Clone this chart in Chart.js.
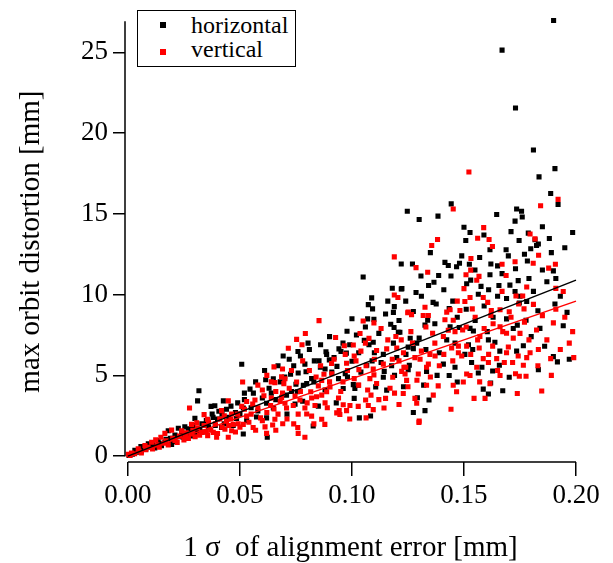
<!DOCTYPE html>
<html>
<head>
<meta charset="utf-8">
<script src="https://cdn.jsdelivr.net/npm/chart.js@4.4.1/dist/chart.umd.min.js"></script>
<style>
  html, body { margin: 0; padding: 0; background: #fff; }
  #wrap { position: relative; width: 613px; height: 563px; }
  #legend { position: absolute; left: 137px; top: 10px; width: 157px; height: 55px;
    border: 1.5px solid #000; background: #fff; font-family: "Liberation Serif", "DejaVu Serif", serif;
    font-size: 24px; line-height: 24px; color: #000; }
  .mk { position: absolute; left: 21.5px; width: 6px; height: 6px; }
  .tx { position: absolute; left: 53px; white-space: nowrap; }
</style>
</head>
<body>
<div id="wrap">
  <canvas id="c" width="613" height="563"></canvas>
  <div id="legend">
    <span class="mk" style="top:10.5px;background:#000"></span><span class="tx" style="top:1.5px">horizontal</span>
    <span class="mk" style="top:37.5px;background:#f00"></span><span class="tx" style="top:25.5px">vertical</span>
  </div>
</div>
<script>
const seriesNames = ["horizontal", "vertical"];
const xTicks = [0.00, 0.05, 0.10, 0.15, 0.20];
const yTicks = [0, 5, 10, 15, 20, 25];

const horizontalPoints = [
[0.190,26.97],[0.167,25.14],[0.173,21.56],[0.181,18.96],[0.1906,17.8],[0.1835,17.29],[0.1887,16.26],[0.192,15.58],[0.1443,15.62],
[0.1247,15.16],[0.130,14.65],[0.1384,14.86],[0.1646,14.96],[0.1735,15.3],[0.1757,15.16],[0.176,14.81],[0.1728,14.55],[0.150,14.17],
[0.1527,13.85],[0.1589,13.69],[0.1508,13.35],[0.1787,13.81],[0.1817,13.4],[0.1824,13.04],[0.1832,13.14],[0.1798,12.84],[0.1746,13.35],
[0.1881,13.48],[0.1985,13.85],[0.1616,12.78],[0.1688,12.78],[0.1698,12.4],[0.1415,12.0],[0.1467,11.73],[0.148,11.94],[0.1524,11.88],
[0.1549,11.53],[0.162,11.9],[0.165,11.78],[0.1783,12.08],[0.185,11.53],[0.1899,11.47],[0.1308,11.15],[0.1387,11.19],[0.1442,11.15],
[0.1616,11.23],[0.1366,10.77],[0.1342,10.57],[0.1512,10.67],[0.1576,10.51],[0.1656,10.57],[0.1705,10.59],[0.1742,10.87],[0.1728,10.19],
[0.1223,10.37],[0.1286,10.13],[0.1564,10.02],[0.169,9.76],[0.178,9.58],[0.1747,9.48],[0.1362,9.52],[0.1376,9.42],[0.1434,9.14],
[0.1906,9.42],[0.1274,8.96],[0.1338,8.41],[0.1326,8.11],[0.1438,8.01],[0.1527,7.91],[0.1542,7.75],[0.1479,7.97],[0.1604,7.71],
[0.1777,8.41],[0.1738,8.11],[0.1839,7.91],[0.1943,8.07],[0.130,7.31],[0.1289,7.0],[0.1241,6.3],[0.1423,7.2],[0.146,7.0],[0.1504,6.3],
[0.1539,6.6],[0.1609,7.2],[0.1638,7.05],[0.1765,6.84],[0.1735,6.5],[0.1534,5.8],[0.1408,5.7],[0.1434,4.99],[0.1658,5.63],[0.1628,5.27],
[0.1702,4.89],[0.1832,5.36],[0.1899,6.16],[0.1917,5.84],[0.1564,5.15],[0.1619,4.53],[0.1609,3.85],[0.1586,4.15],[0.147,4.59],[0.1673,4.05],
[0.1344,3.48],[0.1326,2.82],[0.1274,2.70],[0.1292,3.62],[0.1256,5.63],[0.1274,6.66],[0.1214,7.67],[0.1333,5.24],
[0.105,11.09],[0.122,10.35],[0.1088,9.8],[0.1073,9.38],[0.1092,9.12],[0.1189,9.26],[0.1185,8.9],[0.100,8.51],[0.1098,8.47],[0.1173,8.17],
[0.1188,7.97],[0.1207,7.67],[0.0978,7.73],[0.0804,7.0],[0.1055,7.17],[0.1076,6.9],[0.1095,7.05],[0.1185,7.0],[0.1251,6.75],[0.0942,6.64],
[0.0951,6.48],[0.0884,6.46],[0.0887,6.3],[0.0759,6.48],[0.0693,6.2],[0.0975,6.38],[0.0832,5.9],[0.0853,5.9],[0.0859,5.5],[0.0899,5.96],
[0.0933,5.56],[0.100,5.88],[0.1066,5.63],[0.1251,5.36],[0.1144,5.25],[0.1177,5.6],[0.076,5.15],[0.0795,5.23],[0.0726,5.07],[0.0649,4.79],
[0.0615,4.73],[0.0783,4.39],[0.075,4.45],[0.0798,4.49],[0.1006,4.43],[0.1028,4.39],[0.1013,4.19],[0.0961,4.19],[0.1106,4.29],[0.1155,4.09],
[0.1083,2.49],[0.1033,2.37],[0.0827,1.87],[0.0622,1.17],[0.0619,2.37],[0.0574,2.42],[0.0649,2.98],[0.0619,3.28],[0.0515,2.98],[0.0515,1.37],
[0.0545,4.15],[0.0508,5.69],[0.0746,3.22],[0.0756,3.99],[0.0708,3.78],[0.101,3.58],[0.114,4.89],
[0.0317,4.05],[0.0311,3.42],[0.0371,3.08],[0.0388,3.12],[0.0426,3.42],[0.0406,2.78],[0.0376,2.61],[0.0485,2.34],[0.0299,2.34],[0.0254,1.81],
[0.0225,1.73],[0.0307,1.47],[0.0321,1.61],[0.0418,1.77],[0.0247,1.17],[0.018,1.57],[0.0135,0.97],[0.0091,0.77],[0.0058,0.6],[0.0031,0.36],
[0.0195,0.72],[0.0165,0.86],
[0.002,0.12],[0.004,0.25],[0.006,0.3],[0.008,0.45],[0.010,0.55],[0.011,0.7],[0.012,0.5],[0.014,0.8],[0.015,0.65],[0.017,1.05],[0.019,1.1],
[0.020,0.9],[0.021,1.3],[0.023,1.2],[0.024,1.45],[0.026,1.35],[0.027,1.7],[0.028,1.25],[0.029,1.9],[0.031,1.6],[0.033,2.0],[0.034,1.5],
[0.035,2.2],[0.036,1.8],[0.038,2.4],[0.039,1.9],[0.040,2.3],[0.042,2.6],[0.043,2.0],[0.044,2.9],[0.045,2.4],[0.046,3.1],[0.047,1.9],
[0.048,2.7],[0.049,3.3],[0.050,2.6],[0.052,3.5],[0.053,2.2],[0.055,3.0],[0.056,3.9],[0.058,2.8],[0.060,3.6],[0.063,4.2],[0.066,3.5],
[0.068,4.6],[0.071,2.6],[0.073,4.0],[0.078,3.4],[0.082,4.8],[0.085,3.1],[0.088,4.1],[0.091,5.2],[0.093,3.3],[0.096,7.0],[0.098,4.9],
[0.103,6.4],[0.106,8.0],[0.109,5.9],[0.112,7.6],[0.114,6.3],[0.116,9.6],[0.119,5.0],[0.121,8.4],[0.123,4.3],[0.0005,0.05],
[0.052,3.9],[0.057,4.6],[0.061,5.3],[0.064,3.9],[0.067,5.6],[0.070,4.9],[0.072,6.0],[0.074,5.6],[0.077,6.2],[0.079,5.7],[0.081,6.6],
[0.083,4.6],[0.086,6.9],[0.088,5.4],[0.090,7.4],[0.092,6.1],[0.094,4.8],[0.097,5.1],[0.099,6.9],[0.102,7.5],[0.104,5.2],[0.107,8.5],
[0.110,6.4],[0.113,5.8],[0.115,8.8],[0.118,10.4],[0.120,6.1],[0.124,9.6],[0.127,11.9],[0.131,9.9],[0.133,6.6],[0.135,12.6],[0.137,8.2],
[0.139,6.4],[0.141,10.3],[0.143,11.8],[0.145,9.6],[0.147,8.6],[0.149,12.4],[0.151,9.1],[0.153,10.9],[0.155,8.4],[0.157,12.3],[0.159,9.3],
[0.161,10.3],[0.163,8.6],[0.165,9.9],[0.167,11.3],[0.169,8.5],[0.171,13.9],[0.173,11.6],[0.175,9.9],[0.177,12.5],[0.179,11.0],[0.181,10.2],
[0.183,9.0],[0.185,14.2],[0.187,10.8],[0.189,12.6],[0.191,11.0],[0.193,9.9],[0.195,12.9],[0.197,6.0],[0.196,8.9],[0.186,6.8],[0.180,7.4],
[0.172,7.9],[0.166,6.5],[0.158,5.5],[0.152,6.9],[0.146,5.5],[0.138,5.0],[0.132,4.4],[0.126,7.3],[0.122,11.9]
];

const verticalPoints = [
[0.1522,17.59],[0.192,15.9],[0.1842,15.5],[0.1452,15.3],[0.1588,14.15],[0.1382,13.41],[0.1356,13.04],[0.1561,13.49],[0.1612,13.41],
[0.1627,12.98],[0.1795,13.75],[0.1817,13.45],[0.1833,12.44],[0.1809,11.94],[0.1908,11.88],[0.1878,11.64],[0.1531,12.24],[0.1286,11.67],
[0.1338,11.39],[0.1509,11.23],[0.153,11.52],[0.1567,11.13],[0.1557,10.89],[0.167,11.88],[0.1728,12.04],[0.1688,11.19],[0.178,10.47],
[0.191,10.39],[0.1943,10.19],[0.150,10.37],[0.1527,9.82],[0.1504,9.58],[0.1586,9.82],[0.1606,9.52],[0.1732,9.92],[0.1762,9.92],
[0.1768,9.12],[0.1661,9.06],[0.1622,9.02],[0.162,8.71],[0.1702,8.94],[0.1744,9.42],[0.1537,9.12],[0.1482,9.02],[0.1452,8.41],
[0.1423,8.92],[0.1438,9.06],[0.1415,8.45],[0.1326,9.22],[0.1341,8.71],[0.1251,8.92],[0.1266,8.76],[0.1318,8.71],[0.1263,7.71],
[0.136,7.61],[0.1408,7.41],[0.146,7.71],[0.1494,7.81],[0.1571,7.41],[0.1561,7.2],[0.1661,8.01],[0.169,7.61],[0.172,7.31],[0.1673,7.71],
[0.1628,6.81],[0.1568,6.7],[0.1512,6.81],[0.1475,6.81],[0.1445,6.7],[0.1475,6.4],[0.1698,6.76],[0.1832,6.6],[0.1824,7.81],[0.1899,8.25],
[0.1985,7.71],[0.178,6.1],[0.1795,6.4],[0.1742,6.2],[0.1765,5.63],[0.1717,5.8],[0.168,5.8],[0.1646,6.04],[0.1586,6.04],[0.1609,5.8],
[0.1557,5.5],[0.1512,5.09],[0.1527,4.99],[0.1497,4.59],[0.1452,4.39],[0.1385,4.35],[0.1661,4.99],[0.1747,4.95],[0.1777,4.95],[0.1887,6.04],
[0.1847,4.03],[0.1738,3.88],[0.1616,4.49],[0.1594,3.58],[0.1545,3.58],[0.1467,3.99],[0.1442,2.9],[0.1363,3.78],[0.1281,3.58],[0.1289,3.28],
[0.1333,4.39],[0.1229,3.88],[0.1244,4.69],[0.1237,5.09],[0.1281,6.1],[0.1304,6.0],[0.1348,6.3],[0.1371,6.2],[0.1341,5.7],[0.1333,5.5],
[0.1232,5.5],[0.1296,5.09],[0.130,2.17],[0.1299,2.09],
[0.1189,12.34],[0.1189,9.98],[0.1205,9.82],[0.1249,8.88],[0.0853,8.39],[0.105,8.37],[0.1098,8.25],[0.0792,7.59],[0.1036,7.59],[0.1076,7.29],
[0.1196,7.41],[0.0753,7.23],[0.0927,7.35],[0.0777,6.9],[0.0966,6.84],[0.1006,6.88],[0.0716,6.68],[0.111,6.54],[0.1155,6.64],[0.120,6.7],
[0.0652,5.53],[0.0909,5.74],[0.0976,5.75],[0.1018,5.9],[0.1031,5.36],[0.1063,5.6],[0.1095,5.39],[0.1098,5.03],[0.1182,4.89],[0.1222,5.25],
[0.124,5.5],[0.0875,5.07],[0.0686,4.91],[0.0701,4.79],[0.0656,4.55],[0.0902,4.29],[0.0887,3.99],[0.0865,3.78],[0.0816,3.99],[0.0842,3.68],
[0.0746,3.72],[0.0686,3.64],[0.0607,3.74],[0.0567,3.48],[0.053,3.38],[0.0557,3.22],[0.0637,3.14],[0.0652,2.92],[0.0708,2.98],[0.0738,3.14],
[0.079,2.98],[0.0798,2.61],[0.082,2.48],[0.0835,3.14],[0.0943,2.82],[0.0932,2.68],[0.0976,2.82],[0.0991,3.14],[0.1028,3.08],[0.1061,3.48],
[0.1085,3.78],[0.1073,3.14],[0.1095,2.88],[0.1063,2.37],[0.1143,2.98],[0.115,3.58],[0.0946,2.58],[0.0865,2.28],[0.0879,1.97],[0.0758,1.77],
[0.076,1.41],[0.079,1.17],[0.0619,1.41],[0.0612,1.81],[0.0646,1.93],[0.0656,2.28],[0.0691,2.01],[0.0592,2.37],[0.053,2.48],[0.0515,1.97],
[0.0559,1.77],[0.0512,4.59],[0.0768,3.48],[0.0701,3.28],[0.0961,3.18],[0.0696,4.49],[0.0753,4.59],[0.085,4.35],[0.0865,4.69],
[0.0275,2.98],[0.0448,3.42],[0.0418,2.82],[0.034,2.57],[0.0355,2.28],[0.0463,2.61],[0.0508,3.08],[0.0492,2.01],[0.0284,1.97],[0.0307,2.07],
[0.0195,1.61],[0.024,1.57],[0.0254,1.27],[0.0284,1.37],[0.0329,1.47],[0.0356,1.27],[0.0381,1.47],[0.0396,1.17],[0.0433,1.67],[0.0448,1.17],
[0.0463,1.57],[0.047,1.97],[0.044,2.17],[0.0165,1.41],[0.0147,1.17],[0.0124,1.01],[0.0106,0.86],[0.0076,0.66],[0.0046,0.46],[0.0016,0.2],
[0.0002,0.12],[0.021,0.97],
[0.001,0.05],[0.003,0.15],[0.005,0.3],[0.006,0.2],[0.008,0.4],[0.009,0.55],[0.011,0.45],[0.013,0.7],[0.014,0.55],[0.016,0.8],[0.017,0.95],
[0.018,0.7],[0.020,1.1],[0.022,0.85],[0.023,1.25],[0.025,1.0],[0.026,1.45],[0.027,1.1],[0.029,1.6],[0.030,1.2],[0.031,1.75],[0.032,1.3],
[0.034,1.9],[0.035,1.5],[0.036,2.1],[0.037,1.6],[0.039,2.0],[0.040,1.4],[0.041,2.3],[0.042,1.8],[0.043,2.5],[0.045,1.9],[0.046,2.3],
[0.048,1.5],[0.049,2.6],[0.050,1.8],[0.052,2.9],[0.054,2.1],[0.055,2.6],[0.057,1.6],[0.058,3.0],[0.060,2.2],[0.062,2.7],[0.064,3.6],
[0.066,1.6],[0.067,2.6],[0.069,3.9],[0.071,2.3],[0.072,4.2],[0.074,2.0],[0.077,4.0],[0.080,3.3],[0.081,5.3],[0.083,2.0],[0.084,4.9],
[0.089,3.0],[0.090,4.6],[0.092,6.0],[0.095,4.0],[0.097,6.3],[0.099,2.3],[0.101,4.8],[0.104,6.5],[0.107,4.1],[0.111,4.5],[0.113,7.9],
[0.117,4.2],[0.118,6.0],[0.121,3.2],[0.122,7.2],[0.058,4.4],[0.062,5.0],[0.066,4.0],[0.069,5.4],
[0.101,6.2],[0.103,4.4],[0.106,7.0],[0.108,4.8],[0.110,6.0],[0.112,3.5],[0.114,5.7],[0.116,7.2],[0.119,3.9],[0.121,5.9],[0.123,6.4],
[0.125,4.3],[0.127,7.0],[0.129,4.7],[0.131,6.5],[0.133,8.0],[0.135,4.9],[0.137,7.0],[0.139,5.6],[0.141,6.3],[0.143,7.8],[0.145,5.9],
[0.147,9.6],[0.149,6.2],[0.151,8.0],[0.153,6.3],[0.155,8.6],[0.157,4.6],[0.159,7.9],[0.161,6.3],[0.163,8.2],[0.165,5.3],[0.167,10.2],
[0.169,6.4],[0.171,8.6],[0.173,5.1],[0.175,7.6],[0.177,8.3],[0.179,7.2],[0.181,9.4],[0.183,5.6],[0.185,8.7],[0.187,7.2],[0.189,5.0],
[0.191,9.1],[0.193,6.6],[0.195,8.6],[0.197,7.0],[0.199,6.1],[0.060,4.1],[0.064,4.6],[0.068,3.4],[0.073,5.3],[0.076,2.6],[0.078,5.9],
[0.082,3.6],[0.086,5.6],[0.088,3.3],[0.091,5.1],[0.094,3.6],[0.096,4.6],[0.098,5.3]
];

const horizontalFit = [[0, 0], [0.20, 10.9]];
const verticalFit = [[0, 0], [0.20, 9.6]];

const toXY = arr => arr.map(p => ({ x: p[0], y: p[1] }));
const serif = "'Liberation Serif', 'DejaVu Serif', serif";

// draws the two axis lines, R style: x axis over the tick range, y axis from 0 up
const axisLines = {
  id: 'axisLines',
  afterDraw(chart) {
    const { ctx, chartArea, scales: { x, y } } = chart;
    ctx.save();
    ctx.strokeStyle = '#000';
    ctx.lineWidth = 1.5;
    ctx.beginPath();
    ctx.moveTo(x.getPixelForValue(xTicks[0]), chartArea.bottom);
    ctx.lineTo(x.getPixelForValue(xTicks[xTicks.length - 1]), chartArea.bottom);
    ctx.moveTo(chartArea.left, y.getPixelForValue(yTicks[0]));
    ctx.lineTo(chartArea.left, chartArea.top);
    ctx.stroke();
    ctx.restore();
  }
};

new Chart(document.getElementById('c'), {
  type: 'scatter',
  data: {
    datasets: [
      { label: seriesNames[0] + ' fit', data: toXY(horizontalFit), showLine: true, borderColor: '#000', borderWidth: 1.5,
        pointRadius: 0, order: 0, clip: 2 },
      { label: seriesNames[1] + ' fit', data: toXY(verticalFit), showLine: true, borderColor: '#f00', borderWidth: 1.5,
        pointRadius: 0, order: 0, clip: 2 },
      { label: seriesNames[1], data: toXY(verticalPoints), pointStyle: 'rect', pointRadius: 3.6, borderWidth: 0,
        backgroundColor: '#f00', borderColor: '#f00', order: 1, clip: 6 },
      { label: seriesNames[0], data: toXY(horizontalPoints), pointStyle: 'rect', pointRadius: 3.6, borderWidth: 0,
        backgroundColor: '#000', borderColor: '#000', order: 2, clip: 6 }
    ]
  },
  plugins: [axisLines],
  options: {
    responsive: false,
    animation: false,
    events: [],
    layout: { padding: { left: 0, right: 37, top: 9, bottom: 0 } },
    plugins: { legend: { display: false }, tooltip: { enabled: false } },
    scales: {
      x: {
        type: 'linear', min: -0.0013, max: 0.2,
        afterBuildTicks: s => { s.ticks = xTicks.map(v => ({ value: v })); },
        afterFit: s => { s.height = 101; },
        grid: { display: true, drawOnChartArea: false, drawTicks: true, tickLength: 14, color: '#000', lineWidth: 1.5 },
        border: { display: false },
        ticks: { color: '#000', font: { family: serif, size: 27 }, padding: 4, maxRotation: 0,
          callback: v => v.toFixed(2) },
        title: { display: true, text: '1 σ  of alignment error [mm]', color: '#000',
          font: { family: serif, size: 29, lineHeight: 1 }, padding: { top: 0, bottom: 0.5 } }
      },
      y: {
        type: 'linear', min: -0.362, max: 26.93,
        afterBuildTicks: s => { s.ticks = yTicks.map(v => ({ value: v })); },
        afterFit: s => { s.width = 125; },
        grid: { display: true, drawOnChartArea: false, drawTicks: true, tickLength: 12, color: '#000', lineWidth: 1.5 },
        border: { display: false },
        ticks: { color: '#000', font: { family: serif, size: 27 }, padding: 5,
          callback: v => String(v) },
        title: { display: true, text: 'max orbit distortion [mm]', color: '#000',
          font: { family: serif, size: 29, lineHeight: 1 }, padding: { top: 17, bottom: 0 } }
      }
    }
  }
});
</script>
</body>
</html>
